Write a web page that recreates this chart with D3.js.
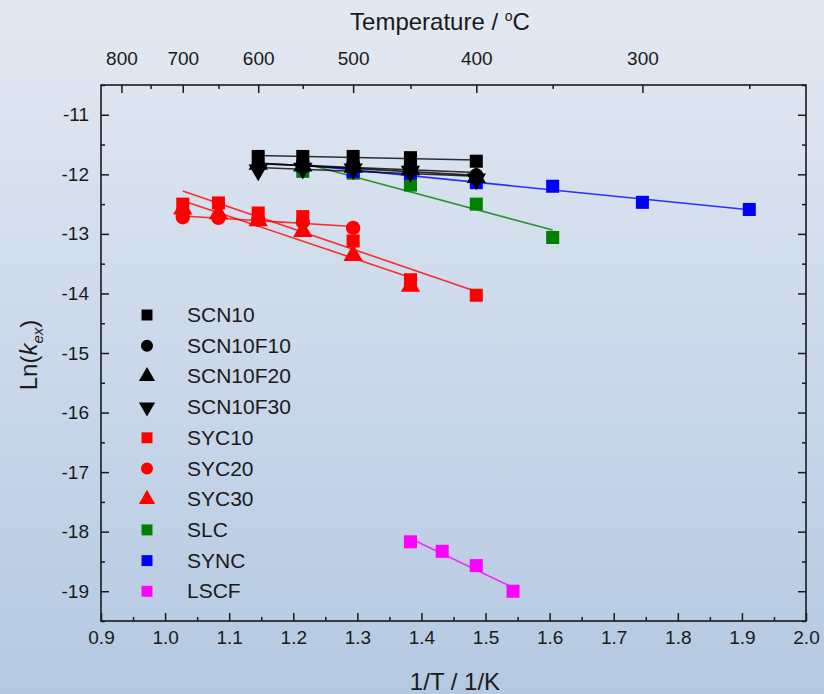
<!DOCTYPE html>
<html>
<head>
<meta charset="utf-8">
<script src="https://cdn.jsdelivr.net/npm/d3@7"></script>
<style>
  body { margin: 0; }
  svg { display: block; font-family: "Liberation Sans", Arial, sans-serif; }
  .axis text { font-size: 19px; fill: #1a1a1a; }
  .axis line { stroke: #1a1a1a; stroke-width: 1.5; }
  .axis path { display: none; }
</style>
</head>
<body>
<div id="chart"></div>
<script>
const svgWidth = 824;
const svgHeight = 694;
const margin = { top: 85, right: 18, bottom: 73, left: 101 };
const width = svgWidth - margin.left - margin.right;
const height = svgHeight - margin.top - margin.bottom;

// measurement temperatures in degC, converted to 1000/T (1/K)
const tempsAll = [700, 650, 600, 550, 500, 450, 400, 350, 300, 250];
const tempsLSCF = [450, 425, 400, 375];

// ln(k_ex) values
const scn10   = [-11.70, -11.70, -11.70, -11.72, -11.78];
const scn10f10 = [-11.86, -11.85, -11.84, -11.88, -12.02];
const scn10f20 = [-11.83, -11.86, -11.88, -11.92, -12.05];
const scn10f30 = [-11.93, -11.90, -11.91, -11.95, -12.08];
const syc10 = [-12.50, -12.48, -12.65, -12.71, -13.12, -13.77, -14.03];
const syc20 = [-12.72, -12.73, -12.76, -12.80, -12.90];
const syc30 = [-12.58, -12.66, -12.78, -12.96, -13.36, -13.88];
const slc  = [-11.95, -11.98, -12.18, -12.50, -13.06];
const sync = [-11.86, -11.95, -11.98, -12.14, -12.20, -12.47, -12.59];
const lscf = [-18.17, -18.33, -18.57, -19.00];

const xTicks = [0.9, 1.0, 1.1, 1.2, 1.3, 1.4, 1.5, 1.6, 1.7, 1.8, 1.9, 2.0];
const yTicks = [-11, -12, -13, -14, -15, -16, -17, -18, -19];
const topTicks = [800, 700, 600, 500, 400, 300];
const topMinor = [750, 650, 550, 450, 350, 250];

const inv = t => 1000 / (t + 273.15);

const series = [
  { name: "SCN10",    color: "#000000", shape: d3.symbolSquare,   temps: [600, 550, 500, 450, 400], y: scn10 },
  { name: "SCN10F10", color: "#000000", shape: d3.symbolCircle,   temps: [600, 550, 500, 450, 400], y: scn10f10 },
  { name: "SCN10F20", color: "#000000", shape: d3.symbolTriangle, temps: [600, 550, 500, 450, 400], y: scn10f20 },
  { name: "SCN10F30", color: "#000000", shape: "down",            temps: [600, 550, 500, 450, 400], y: scn10f30 },
  { name: "SYC10",    color: "#ff0000", shape: d3.symbolSquare,   temps: tempsAll.slice(0, 7), y: syc10 },
  { name: "SYC20",    color: "#ff0000", shape: d3.symbolCircle,   temps: tempsAll.slice(0, 5), y: syc20 },
  { name: "SYC30",    color: "#ff0000", shape: d3.symbolTriangle, temps: tempsAll.slice(0, 6), y: syc30 },
  { name: "SLC",      color: "#008000", shape: d3.symbolSquare,   temps: [550, 500, 450, 400, 350], y: slc },
  { name: "SYNC",     color: "#0000ff", shape: d3.symbolSquare,   temps: [550, 500, 450, 400, 350, 300, 250], y: sync },
  { name: "LSCF",     color: "#ff00ff", shape: d3.symbolSquare,   temps: tempsLSCF, y: lscf }
];

// drawing order: green and blue go under the black cluster
const drawOrder = [7, 8, 0, 1, 2, 3, 4, 5, 6, 9];

const svg = d3.select("#chart").append("svg")
  .attr("width", svgWidth)
  .attr("height", svgHeight);

// background gradient
const grad = svg.append("defs").append("linearGradient")
  .attr("id", "bg").attr("x1", 0).attr("y1", 0).attr("x2", 0).attr("y2", 1);
grad.append("stop").attr("offset", "0%").attr("stop-color", "#e3e9f2");
grad.append("stop").attr("offset", "100%").attr("stop-color", "#b5c9e2");
svg.append("rect").attr("width", svgWidth).attr("height", svgHeight).attr("fill", "url(#bg)");

const chartGroup = svg.append("g")
  .attr("transform", `translate(${margin.left}, ${margin.top})`);

const x = d3.scaleLinear().domain([0.9, 2.0]).range([0, width]);
const y = d3.scaleLinear().domain([-19.5, -10.5]).range([height, 0]);

// axes (ticks point inward)
chartGroup.append("g").attr("class", "axis")
  .attr("transform", `translate(0, ${height})`)
  .call(d3.axisBottom(x).tickValues(xTicks).tickSize(-8).tickPadding(10).tickFormat(d3.format(".1f")));
chartGroup.append("g").attr("class", "axis")
  .attr("transform", `translate(0, ${height})`)
  .call(d3.axisBottom(x).tickValues(d3.range(0.95, 2.0, 0.1)).tickSize(-4).tickFormat(""));

chartGroup.append("g").attr("class", "axis")
  .call(d3.axisLeft(y).tickValues(yTicks).tickSize(-8).tickPadding(12).tickFormat(d => String(d)));
chartGroup.append("g").attr("class", "axis")
  .call(d3.axisLeft(y).tickValues(d3.range(-19.5, -10.4, 1)).tickSize(-4).tickFormat(""));

chartGroup.append("g").attr("class", "axis")
  .attr("transform", `translate(${width}, 0)`)
  .call(d3.axisRight(y).tickValues(yTicks).tickSize(-8).tickFormat(""));
chartGroup.append("g").attr("class", "axis")
  .attr("transform", `translate(${width}, 0)`)
  .call(d3.axisRight(y).tickValues(d3.range(-19.5, -10.4, 1)).tickSize(-4).tickFormat(""));

chartGroup.append("g").attr("class", "axis")
  .call(d3.axisTop(x).tickValues(topTicks.map(inv)).tickSize(-8).tickPadding(20)
    .tickFormat((d, i) => topTicks[i]));
chartGroup.append("g").attr("class", "axis")
  .call(d3.axisTop(x).tickValues(topMinor.map(inv)).tickSize(-4).tickFormat(""));

chartGroup.append("rect")
  .attr("width", width).attr("height", height)
  .attr("fill", "none").attr("stroke", "#1a1a1a").attr("stroke-width", 1.6);

// axis titles
svg.append("text")
  .attr("x", 455).attr("y", 690)
  .attr("text-anchor", "middle").style("font-size", "24px").attr("fill", "#1a1a1a")
  .text("1/T / 1/K");

const tTitle = svg.append("text")
  .attr("x", 440).attr("y", 30)
  .attr("text-anchor", "middle").style("font-size", "24px").attr("fill", "#1a1a1a");
tTitle.append("tspan").text("Temperature / ");
tTitle.append("tspan").attr("dy", -9).style("font-size", "14px").text("o");
tTitle.append("tspan").attr("dy", 9).text("C");

const yTitle = svg.append("text")
  .attr("transform", "translate(37, 355) rotate(-90)")
  .attr("text-anchor", "middle").style("font-size", "24px").attr("fill", "#1a1a1a");
yTitle.append("tspan").text("Ln(");
yTitle.append("tspan").style("font-style", "italic").text("k");
yTitle.append("tspan").attr("dy", 6).style("font-style", "italic").style("font-size", "15px").text("ex");
yTitle.append("tspan").attr("dy", -6).text(")");

// symbol path helper
function symbolPath(shape, size) {
  if (shape === "down") return d3.symbol(d3.symbolTriangle, size)();
  return d3.symbol(shape, size)();
}
function symbolSize(shape, base) {
  if (shape === d3.symbolTriangle || shape === "down") return base * 0.95;
  if (shape === d3.symbolCircle) return base * 0.95;
  return base;
}

// linear fit lines over each series' range
const fitLine = d3.line().x(d => x(d[0])).y(d => y(d[1]));
drawOrder.map(i => series[i]).forEach(s => {
  const xs = s.temps.map(inv);
  const mx = d3.mean(xs), my = d3.mean(s.y);
  const sxy = d3.sum(xs, (v, i) => (v - mx) * (s.y[i] - my));
  const sxx = d3.sum(xs, v => (v - mx) * (v - mx));
  const b = sxy / sxx;
  const ends = d3.extent(xs).map(v => [v, my + b * (v - mx)]);
  chartGroup.append("path")
    .attr("d", fitLine(ends))
    .attr("fill", "none")
    .attr("stroke", s.color)
    .attr("stroke-width", 1.6)
    .attr("stroke-opacity", 0.8);
});

// data points
drawOrder.map(i => series[i]).forEach(s => {
  chartGroup.append("g").selectAll("path")
    .data(s.temps.map((t, i) => [inv(t), s.y[i]]))
    .join("path")
    .attr("d", symbolPath(s.shape, symbolSize(s.shape, 170)))
    .attr("transform", d => `translate(${x(d[0])}, ${y(d[1])})` + (s.shape === "down" ? " rotate(180)" : ""))
    .attr("fill", s.color);
});

// legend
const legend = svg.append("g").attr("transform", "translate(147, 315)");
series.forEach((s, i) => {
  const row = legend.append("g").attr("transform", `translate(0, ${i * 30.7})`);
  row.append("path")
    .attr("d", symbolPath(s.shape, symbolSize(s.shape, 120)))
    .attr("transform", s.shape === "down" ? "rotate(180)" : null)
    .attr("fill", s.color);
  row.append("text")
    .attr("x", 40).attr("y", 7)
    .style("font-size", "21px").attr("fill", "#1a1a1a")
    .text(s.name);
});
</script>
</body>
</html>
